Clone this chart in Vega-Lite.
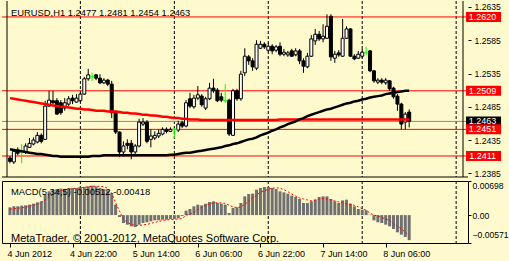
{
"$schema":"https://vega.github.io/schema/vega-lite/v6.json",
"background":"#FFFACD",
"padding":{"left":1,"top":0,"right":0,"bottom":0},
"spacing":2,
"config":{"font":"Liberation Sans","view":{"stroke":null},"axis":{"grid":false,"domain":false,"labelColor":"black","tickColor":"black"}},
"datasets":{
"sep":[{"t":"2012-06-05T00:00Z"},{"t":"2012-06-06T00:00Z"},{"t":"2012-06-07T00:00Z"},{"t":"2012-06-08T00:00Z"},{"t":"2012-06-09T00:00Z"}],
"levels":[{"p":1.262},{"p":1.2509},{"p":1.2451},{"p":1.2411}],
"bid":[{"p":1.2463}],
"bars":[
{"t":"2012-06-04T06:00Z","o":1.2408,"h":1.2411,"l":1.24,"c":1.2403,"r":1.2498,"b":1.2421,"m":0.00159,"s":0.0012},
{"t":"2012-06-04T07:00Z","o":1.2402,"h":1.2421,"l":1.2399,"c":1.2418,"r":1.2497,"b":1.242,"m":0.0018,"s":0.0013},
{"t":"2012-06-04T08:00Z","o":1.242,"h":1.2424,"l":1.2412,"c":1.2415,"r":1.2496,"b":1.2419,"m":0.0018,"s":0.0014},
{"t":"2012-06-04T09:00Z","o":1.2417,"h":1.2429,"l":1.24,"c":1.2417,"r":1.2495,"b":1.2418,"m":0.00193,"s":0.0015},
{"t":"2012-06-04T10:00Z","o":1.2417,"h":1.243,"l":1.2414,"c":1.2426,"r":1.2494,"b":1.2417,"m":0.002,"s":0.0016},
{"t":"2012-06-04T11:00Z","o":1.2424,"h":1.2438,"l":1.2423,"c":1.243,"r":1.2493,"b":1.2416,"m":0.00214,"s":0.0018},
{"t":"2012-06-04T12:00Z","o":1.2429,"h":1.2439,"l":1.2427,"c":1.2435,"r":1.2492,"b":1.2415,"m":0.00234,"s":0.002},
{"t":"2012-06-04T13:00Z","o":1.2432,"h":1.2447,"l":1.243,"c":1.2442,"r":1.2491,"b":1.2414,"m":0.00261,"s":0.0022},
{"t":"2012-06-04T14:00Z","o":1.2442,"h":1.2445,"l":1.243,"c":1.2433,"r":1.249,"b":1.2414,"m":0.00282,"s":0.0026},
{"t":"2012-06-04T15:00Z","o":1.2436,"h":1.2494,"l":1.2435,"c":1.2486,"r":1.2489,"b":1.2413,"m":0.00418,"s":0.0031},
{"t":"2012-06-04T16:00Z","o":1.2486,"h":1.2509,"l":1.2485,"c":1.2495,"r":1.2488,"b":1.2412,"m":0.00487,"s":0.0037},
{"t":"2012-06-04T17:00Z","o":1.2494,"h":1.2509,"l":1.2489,"c":1.2491,"r":1.2487,"b":1.2411,"m":0.00521,"s":0.0042},
{"t":"2012-06-04T18:00Z","o":1.2494,"h":1.2498,"l":1.2473,"c":1.2474,"r":1.2486,"b":1.2411,"m":0.00534,"s":0.0047},
{"t":"2012-06-04T19:00Z","o":1.2491,"h":1.2495,"l":1.2473,"c":1.2476,"r":1.2485,"b":1.241,"m":0.00541,"s":0.005},
{"t":"2012-06-04T20:00Z","o":1.2483,"h":1.2498,"l":1.2479,"c":1.2491,"r":1.2485,"b":1.241,"m":0.00534,"s":0.0052},
{"t":"2012-06-04T21:00Z","o":1.2489,"h":1.2501,"l":1.2486,"c":1.2497,"r":1.2484,"b":1.241,"m":0.00548,"s":0.0053},
{"t":"2012-06-04T22:00Z","o":1.2498,"h":1.2503,"l":1.2489,"c":1.2494,"r":1.2483,"b":1.241,"m":0.00555,"s":0.0054},
{"t":"2012-06-04T23:00Z","o":1.2492,"h":1.2504,"l":1.2491,"c":1.2498,"r":1.2482,"b":1.241,"m":0.00555,"s":0.0055},
{"t":"2012-06-05T00:00Z","o":1.2494,"h":1.2507,"l":1.2492,"c":1.2504,"r":1.2482,"b":1.241,"m":0.00568,"s":0.0056},
{"t":"2012-06-05T01:00Z","o":1.2504,"h":1.253,"l":1.2503,"c":1.2527,"r":1.2481,"b":1.241,"m":0.00575,"s":0.0057},
{"t":"2012-06-05T02:00Z","o":1.2527,"h":1.2542,"l":1.2524,"c":1.2533,"r":1.2481,"b":1.241,"m":0.00589,"s":0.0058},
{"t":"2012-06-05T03:00Z","o":1.253,"h":1.2536,"l":1.2524,"c":1.253,"r":1.248,"b":1.2411,"m":0.00602,"s":0.0059},
{"t":"2012-06-05T04:00Z","o":1.2533,"h":1.2534,"l":1.2525,"c":1.2528,"r":1.2479,"b":1.2411,"m":0.00589,"s":0.0059},
{"t":"2012-06-05T05:00Z","o":1.2528,"h":1.2534,"l":1.2519,"c":1.2521,"r":1.2479,"b":1.2411,"m":0.00555,"s":0.0059},
{"t":"2012-06-05T06:00Z","o":1.2521,"h":1.2528,"l":1.2519,"c":1.2525,"r":1.2479,"b":1.2412,"m":0.00534,"s":0.0058},
{"t":"2012-06-05T07:00Z","o":1.2525,"h":1.2527,"l":1.2516,"c":1.2519,"r":1.2478,"b":1.2412,"m":0.00507,"s":0.0055},
{"t":"2012-06-05T08:00Z","o":1.2519,"h":1.2524,"l":1.2468,"c":1.2476,"r":1.2478,"b":1.2412,"m":0.00452,"s":0.0045},
{"t":"2012-06-05T09:00Z","o":1.2476,"h":1.2479,"l":1.2444,"c":1.2447,"r":1.2478,"b":1.2412,"m":0.00214,"s":0.0025},
{"t":"2012-06-05T10:00Z","o":1.2447,"h":1.2448,"l":1.2409,"c":1.2417,"r":1.2477,"b":1.2412,"m":-0.00039,"s":0.0008},
{"t":"2012-06-05T11:00Z","o":1.2417,"h":1.2433,"l":1.2414,"c":1.2426,"r":1.2476,"b":1.2412,"m":-0.00162,"s":-0.0008},
{"t":"2012-06-05T12:00Z","o":1.243,"h":1.2436,"l":1.2421,"c":1.2427,"r":1.2476,"b":1.2412,"m":-0.00196,"s":-0.0015},
{"t":"2012-06-05T13:00Z","o":1.243,"h":1.2435,"l":1.2406,"c":1.2417,"r":1.2475,"b":1.2412,"m":-0.0023,"s":-0.0019},
{"t":"2012-06-05T14:00Z","o":1.2417,"h":1.2429,"l":1.2414,"c":1.2426,"r":1.2475,"b":1.2412,"m":-0.00244,"s":-0.0021},
{"t":"2012-06-05T15:00Z","o":1.2426,"h":1.2467,"l":1.2424,"c":1.2462,"r":1.2474,"b":1.2412,"m":-0.00196,"s":-0.0021},
{"t":"2012-06-05T16:00Z","o":1.2459,"h":1.2468,"l":1.2456,"c":1.2462,"r":1.2473,"b":1.2412,"m":-0.00162,"s":-0.002},
{"t":"2012-06-05T17:00Z","o":1.2462,"h":1.2465,"l":1.243,"c":1.2433,"r":1.2473,"b":1.2412,"m":-0.00148,"s":-0.0019},
{"t":"2012-06-05T18:00Z","o":1.2436,"h":1.2451,"l":1.2424,"c":1.2441,"r":1.2472,"b":1.2412,"m":-0.00128,"s":-0.0017},
{"t":"2012-06-05T19:00Z","o":1.2438,"h":1.2448,"l":1.2435,"c":1.2442,"r":1.2472,"b":1.2412,"m":-0.00107,"s":-0.0015},
{"t":"2012-06-05T20:00Z","o":1.2441,"h":1.2451,"l":1.2438,"c":1.2445,"r":1.2471,"b":1.2412,"m":-0.00107,"s":-0.0013},
{"t":"2012-06-05T21:00Z","o":1.2444,"h":1.2454,"l":1.2442,"c":1.2451,"r":1.247,"b":1.2412,"m":-0.00094,"s":-0.0011},
{"t":"2012-06-05T22:00Z","o":1.2451,"h":1.2454,"l":1.2445,"c":1.2448,"r":1.247,"b":1.2412,"m":-0.00094,"s":-0.001},
{"t":"2012-06-05T23:00Z","o":1.2448,"h":1.2454,"l":1.2447,"c":1.2451,"r":1.2469,"b":1.2413,"m":-0.0008,"s":-0.0009},
{"t":"2012-06-06T00:00Z","o":1.2451,"h":1.2453,"l":1.2438,"c":1.2451,"r":1.2468,"b":1.2413,"m":-0.0008,"s":-0.0009},
{"t":"2012-06-06T01:00Z","o":1.245,"h":1.2464,"l":1.2447,"c":1.2459,"r":1.2468,"b":1.2414,"m":-0.00066,"s":-0.0008},
{"t":"2012-06-06T02:00Z","o":1.2461,"h":1.2464,"l":1.2453,"c":1.2456,"r":1.2467,"b":1.2415,"m":-0.0002,"s":-0.0007},
{"t":"2012-06-06T03:00Z","o":1.2456,"h":1.2495,"l":1.2454,"c":1.2491,"r":1.2467,"b":1.2416,"m":0.00091,"s":0},
{"t":"2012-06-06T04:00Z","o":1.2497,"h":1.2506,"l":1.2483,"c":1.2486,"r":1.2466,"b":1.2416,"m":0.00125,"s":0.0002},
{"t":"2012-06-06T05:00Z","o":1.2485,"h":1.2503,"l":1.2482,"c":1.2498,"r":1.2466,"b":1.2417,"m":0.0018,"s":0.0006},
{"t":"2012-06-06T06:00Z","o":1.2498,"h":1.2516,"l":1.2495,"c":1.2503,"r":1.2466,"b":1.2418,"m":0.00214,"s":0.0011},
{"t":"2012-06-06T07:00Z","o":1.2501,"h":1.2504,"l":1.2485,"c":1.2488,"r":1.2465,"b":1.2419,"m":0.002,"s":0.0016},
{"t":"2012-06-06T08:00Z","o":1.2483,"h":1.25,"l":1.248,"c":1.2497,"r":1.2465,"b":1.242,"m":0.00234,"s":0.002},
{"t":"2012-06-06T09:00Z","o":1.2497,"h":1.2521,"l":1.2495,"c":1.2513,"r":1.2465,"b":1.2421,"m":0.00268,"s":0.0023},
{"t":"2012-06-06T10:00Z","o":1.2513,"h":1.2527,"l":1.2506,"c":1.2509,"r":1.2465,"b":1.2422,"m":0.00282,"s":0.0025},
{"t":"2012-06-06T11:00Z","o":1.251,"h":1.2513,"l":1.2492,"c":1.2494,"r":1.2465,"b":1.2423,"m":0.00248,"s":0.0025},
{"t":"2012-06-06T12:00Z","o":1.25,"h":1.2506,"l":1.2492,"c":1.2495,"r":1.2465,"b":1.2424,"m":0.00234,"s":0.0025},
{"t":"2012-06-06T13:00Z","o":1.2494,"h":1.2519,"l":1.2491,"c":1.2494,"r":1.2465,"b":1.2426,"m":0.00214,"s":0.0024},
{"t":"2012-06-06T14:00Z","o":1.2495,"h":1.2497,"l":1.2441,"c":1.2444,"r":1.2465,"b":1.2427,"m":0.00043,"s":0.002},
{"t":"2012-06-06T15:00Z","o":1.2442,"h":1.2512,"l":1.2441,"c":1.2509,"r":1.2465,"b":1.2429,"m":0.00145,"s":0.0017},
{"t":"2012-06-06T16:00Z","o":1.2509,"h":1.2512,"l":1.2494,"c":1.2497,"r":1.2465,"b":1.243,"m":0.00159,"s":0.0015},
{"t":"2012-06-06T17:00Z","o":1.2497,"h":1.2539,"l":1.2494,"c":1.2534,"r":1.2465,"b":1.2432,"m":0.00248,"s":0.0017},
{"t":"2012-06-06T18:00Z","o":1.2536,"h":1.2573,"l":1.2531,"c":1.2561,"r":1.2465,"b":1.2434,"m":0.00384,"s":0.0022},
{"t":"2012-06-06T19:00Z","o":1.256,"h":1.2563,"l":1.2548,"c":1.2554,"r":1.2465,"b":1.2436,"m":0.00432,"s":0.0029},
{"t":"2012-06-06T20:00Z","o":1.2554,"h":1.2558,"l":1.2539,"c":1.2545,"r":1.2465,"b":1.2437,"m":0.00439,"s":0.0035},
{"t":"2012-06-06T21:00Z","o":1.2543,"h":1.2585,"l":1.254,"c":1.2579,"r":1.2465,"b":1.2439,"m":0.00521,"s":0.0041},
{"t":"2012-06-06T22:00Z","o":1.2573,"h":1.2584,"l":1.2572,"c":1.2579,"r":1.2465,"b":1.2442,"m":0.00555,"s":0.0047},
{"t":"2012-06-06T23:00Z","o":1.2579,"h":1.2582,"l":1.2572,"c":1.2575,"r":1.2465,"b":1.2444,"m":0.00575,"s":0.005},
{"t":"2012-06-07T00:00Z","o":1.257,"h":1.2581,"l":1.2567,"c":1.2576,"r":1.2465,"b":1.2446,"m":0.00575,"s":0.0053},
{"t":"2012-06-07T01:00Z","o":1.2576,"h":1.2579,"l":1.2564,"c":1.2569,"r":1.2465,"b":1.2449,"m":0.00555,"s":0.0055},
{"t":"2012-06-07T02:00Z","o":1.257,"h":1.2578,"l":1.2567,"c":1.2575,"r":1.2465,"b":1.2451,"m":0.00534,"s":0.0056},
{"t":"2012-06-07T03:00Z","o":1.2576,"h":1.2582,"l":1.2561,"c":1.2564,"r":1.2466,"b":1.2454,"m":0.00487,"s":0.0055},
{"t":"2012-06-07T04:00Z","o":1.2564,"h":1.2572,"l":1.2561,"c":1.2567,"r":1.2466,"b":1.2456,"m":0.00466,"s":0.0052},
{"t":"2012-06-07T05:00Z","o":1.2563,"h":1.2569,"l":1.256,"c":1.2566,"r":1.2466,"b":1.2459,"m":0.00439,"s":0.0048},
{"t":"2012-06-07T06:00Z","o":1.2569,"h":1.2572,"l":1.256,"c":1.2561,"r":1.2466,"b":1.2461,"m":0.00398,"s":0.0043},
{"t":"2012-06-07T07:00Z","o":1.2563,"h":1.2573,"l":1.2561,"c":1.2569,"r":1.2466,"b":1.2463,"m":0.00371,"s":0.0039},
{"t":"2012-06-07T08:00Z","o":1.2569,"h":1.2572,"l":1.2549,"c":1.2554,"r":1.2466,"b":1.2466,"m":0.0033,"s":0.0035},
{"t":"2012-06-07T09:00Z","o":1.2554,"h":1.2558,"l":1.2536,"c":1.2546,"r":1.2466,"b":1.2468,"m":0.00248,"s":0.0033},
{"t":"2012-06-07T10:00Z","o":1.2545,"h":1.2566,"l":1.2543,"c":1.2561,"r":1.2466,"b":1.2471,"m":0.00248,"s":0.0031},
{"t":"2012-06-07T11:00Z","o":1.2561,"h":1.2593,"l":1.256,"c":1.2587,"r":1.2466,"b":1.2473,"m":0.00282,"s":0.0029},
{"t":"2012-06-07T12:00Z","o":1.2584,"h":1.2602,"l":1.2578,"c":1.2594,"r":1.2466,"b":1.2475,"m":0.00316,"s":0.0031},
{"t":"2012-06-07T13:00Z","o":1.2594,"h":1.2599,"l":1.2584,"c":1.2587,"r":1.2466,"b":1.2477,"m":0.00371,"s":0.0033},
{"t":"2012-06-07T14:00Z","o":1.2587,"h":1.2609,"l":1.2582,"c":1.2591,"r":1.2466,"b":1.2479,"m":0.00384,"s":0.0034},
{"t":"2012-06-07T15:00Z","o":1.2588,"h":1.2624,"l":1.2587,"c":1.2606,"r":1.2466,"b":1.2481,"m":0.00384,"s":0.0033},
{"t":"2012-06-07T16:00Z","o":1.2621,"h":1.2624,"l":1.2554,"c":1.256,"r":1.2466,"b":1.2482,"m":0.0033,"s":0.0031},
{"t":"2012-06-07T17:00Z","o":1.2558,"h":1.2569,"l":1.2551,"c":1.2564,"r":1.2466,"b":1.2484,"m":0.00282,"s":0.0029},
{"t":"2012-06-07T18:00Z","o":1.2566,"h":1.257,"l":1.256,"c":1.2563,"r":1.2466,"b":1.2486,"m":0.00248,"s":0.0027},
{"t":"2012-06-07T19:00Z","o":1.2561,"h":1.2617,"l":1.256,"c":1.2588,"r":1.2466,"b":1.2488,"m":0.00302,"s":0.0025},
{"t":"2012-06-07T20:00Z","o":1.2588,"h":1.2606,"l":1.2587,"c":1.2602,"r":1.2466,"b":1.249,"m":0.00316,"s":0.0023},
{"t":"2012-06-07T21:00Z","o":1.2602,"h":1.2603,"l":1.256,"c":1.2561,"r":1.2466,"b":1.2491,"m":0.00234,"s":0.0022},
{"t":"2012-06-07T22:00Z","o":1.2561,"h":1.2564,"l":1.2555,"c":1.2557,"r":1.2466,"b":1.2493,"m":0.0018,"s":0.002},
{"t":"2012-06-07T23:00Z","o":1.2558,"h":1.2569,"l":1.2557,"c":1.2564,"r":1.2466,"b":1.2494,"m":0.00125,"s":0.0017},
{"t":"2012-06-08T00:00Z","o":1.2561,"h":1.2572,"l":1.2558,"c":1.2567,"r":1.2466,"b":1.2496,"m":0.00111,"s":0.0013},
{"t":"2012-06-08T01:00Z","o":1.2566,"h":1.2575,"l":1.2563,"c":1.2566,"r":1.2466,"b":1.2497,"m":0.00098,"s":0.001},
{"t":"2012-06-08T02:00Z","o":1.2569,"h":1.257,"l":1.2537,"c":1.2539,"r":1.2466,"b":1.2499,"m":0.00009,"s":0.0004},
{"t":"2012-06-08T03:00Z","o":1.2539,"h":1.254,"l":1.2521,"c":1.2524,"r":1.2466,"b":1.25,"m":-0.00107,"s":0},
{"t":"2012-06-08T04:00Z","o":1.2522,"h":1.2528,"l":1.2519,"c":1.2525,"r":1.2466,"b":1.2501,"m":-0.00148,"s":-0.0002},
{"t":"2012-06-08T05:00Z","o":1.2525,"h":1.2528,"l":1.2519,"c":1.2522,"r":1.2466,"b":1.2502,"m":-0.00162,"s":-0.0005},
{"t":"2012-06-08T06:00Z","o":1.2521,"h":1.2528,"l":1.2518,"c":1.2525,"r":1.2466,"b":1.2504,"m":-0.00196,"s":-0.0008},
{"t":"2012-06-08T07:00Z","o":1.2524,"h":1.2525,"l":1.2509,"c":1.2512,"r":1.2466,"b":1.2505,"m":-0.0023,"s":-0.0011},
{"t":"2012-06-08T08:00Z","o":1.2513,"h":1.2515,"l":1.2497,"c":1.25,"r":1.2466,"b":1.2506,"m":-0.00285,"s":-0.0018},
{"t":"2012-06-08T09:00Z","o":1.2501,"h":1.2504,"l":1.2479,"c":1.2489,"r":1.2466,"b":1.2507,"m":-0.00353,"s":-0.0023},
{"t":"2012-06-08T10:00Z","o":1.2489,"h":1.2491,"l":1.2451,"c":1.2459,"r":1.2466,"b":1.2508,"m":-0.00401,"s":-0.0028},
{"t":"2012-06-08T11:00Z","o":1.2462,"h":1.2477,"l":1.2451,"c":1.2474,"r":1.2466,"b":1.2509,"m":-0.00448,"s":-0.0035},
{"t":"2012-06-08T12:00Z","o":1.2477,"h":1.2481,"l":1.2454,"c":1.2463,"r":1.2466,"b":1.2509,"m":-0.00512,"s":-0.00418}
]},
"vconcat":[
{"width":466,"height":176,
"layer":[
{"data":{"name":"sep"},"mark":{"type":"rule","color":"black","strokeDash":[3,2]},
 "encoding":{"x":{"field":"t","type":"temporal","scale":{"type":"utc","domain":[{"year":2012,"month":6,"date":4,"hours":5,"minutes":15,"utc":true},{"year":2012,"month":6,"date":9,"hours":1,"minutes":45,"utc":true}]},"axis":null}}},
{"data":{"name":"bid"},"mark":{"type":"rule","color":"#8a8a8a"},
 "encoding":{"y":{"field":"p","type":"quantitative","scale":{"domain":[1.23794,1.2644],"zero":false,"nice":false},"axis":{"orient":"right","values":[1.2385,1.2435,1.2485,1.2535,1.2585,1.2635],"format":".4f","tickSize":3,"labelPadding":3,"labelFontSize":8.6,"labelOverlap":false,"title":null}}}},
{"data":{"name":"levels"},"mark":{"type":"rule","color":"#ff0000"},
 "encoding":{"y":{"field":"p","type":"quantitative","scale":{"domain":[1.23794,1.2644],"zero":false,"nice":false},"axis":{"orient":"right","values":[1.2385,1.2435,1.2485,1.2535,1.2585,1.2635],"format":".4f","tickSize":3,"labelPadding":3,"labelFontSize":8.6,"labelOverlap":false,"title":null}}}},
{"data":{"name":"bars"},"mark":{"type":"rule","strokeWidth":1},
 "encoding":{"x":{"field":"t","type":"temporal","scale":{"type":"utc","domain":[{"year":2012,"month":6,"date":4,"hours":5,"minutes":15,"utc":true},{"year":2012,"month":6,"date":9,"hours":1,"minutes":45,"utc":true}]},"axis":null},
 "y":{"field":"h","type":"quantitative","scale":{"domain":[1.23794,1.2644],"zero":false,"nice":false},"axis":{"orient":"right","values":[1.2385,1.2435,1.2485,1.2535,1.2585,1.2635],"format":".4f","tickSize":3,"labelPadding":3,"labelFontSize":8.6,"labelOverlap":false,"title":null}},"y2":{"field":"l"},
 "color":{"condition":{"test":"datum.o == datum.c","value":"#00ff00"},"value":"black"}}},
{"data":{"name":"bars"},"transform":[{"filter":"datum.o != datum.c"}],"mark":{"type":"bar","width":3,"stroke":"black","strokeWidth":1},
 "encoding":{"x":{"field":"t","type":"temporal","scale":{"type":"utc","domain":[{"year":2012,"month":6,"date":4,"hours":5,"minutes":15,"utc":true},{"year":2012,"month":6,"date":9,"hours":1,"minutes":45,"utc":true}]},"axis":null},
 "y":{"field":"o","type":"quantitative","scale":{"domain":[1.23794,1.2644],"zero":false,"nice":false},"axis":{"orient":"right","values":[1.2385,1.2435,1.2485,1.2535,1.2585,1.2635],"format":".4f","tickSize":3,"labelPadding":3,"labelFontSize":8.6,"labelOverlap":false,"title":null}},"y2":{"field":"c"},
 "fill":{"condition":{"test":"datum.c > datum.o","value":"white"},"value":"black"}}},
{"data":{"name":"bars"},"transform":[{"filter":"datum.o == datum.c"}],"mark":{"type":"tick","orient":"horizontal","color":"#00ff00","size":5,"thickness":1,"opacity":1},
 "encoding":{"x":{"field":"t","type":"temporal","scale":{"type":"utc","domain":[{"year":2012,"month":6,"date":4,"hours":5,"minutes":15,"utc":true},{"year":2012,"month":6,"date":9,"hours":1,"minutes":45,"utc":true}]},"axis":null},
 "y":{"field":"o","type":"quantitative","scale":{"domain":[1.23794,1.2644],"zero":false,"nice":false},"axis":{"orient":"right","values":[1.2385,1.2435,1.2485,1.2535,1.2585,1.2635],"format":".4f","tickSize":3,"labelPadding":3,"labelFontSize":8.6,"labelOverlap":false,"title":null}}}},
{"data":{"name":"bars"},"mark":{"type":"line","color":"#ff0000","strokeWidth":2.5},
 "encoding":{"x":{"field":"t","type":"temporal","scale":{"type":"utc","domain":[{"year":2012,"month":6,"date":4,"hours":5,"minutes":15,"utc":true},{"year":2012,"month":6,"date":9,"hours":1,"minutes":45,"utc":true}]},"axis":null},
 "y":{"field":"r","type":"quantitative","scale":{"domain":[1.23794,1.2644],"zero":false,"nice":false},"axis":{"orient":"right","values":[1.2385,1.2435,1.2485,1.2535,1.2585,1.2635],"format":".4f","tickSize":3,"labelPadding":3,"labelFontSize":8.6,"labelOverlap":false,"title":null}}}},
{"data":{"name":"bars"},"mark":{"type":"line","color":"black","strokeWidth":2.5},
 "encoding":{"x":{"field":"t","type":"temporal","scale":{"type":"utc","domain":[{"year":2012,"month":6,"date":4,"hours":5,"minutes":15,"utc":true},{"year":2012,"month":6,"date":9,"hours":1,"minutes":45,"utc":true}]},"axis":null},
 "y":{"field":"b","type":"quantitative","scale":{"domain":[1.23794,1.2644],"zero":false,"nice":false},"axis":{"orient":"right","values":[1.2385,1.2435,1.2485,1.2535,1.2585,1.2635],"format":".4f","tickSize":3,"labelPadding":3,"labelFontSize":8.6,"labelOverlap":false,"title":null}}}},
{"data":{"values":[{}]},"mark":{"type":"rule","color":"black"},
 "encoding":{"x":{"datum":{"year":2012,"month":6,"date":4,"hours":5,"minutes":15,"utc":true},"type":"temporal","scale":{"type":"utc","domain":[{"year":2012,"month":6,"date":4,"hours":5,"minutes":15,"utc":true},{"year":2012,"month":6,"date":9,"hours":1,"minutes":45,"utc":true}]},"axis":null}}},
{"data":{"values":[{}]},"mark":{"type":"rule","color":"black"},
 "encoding":{"x":{"datum":{"year":2012,"month":6,"date":9,"hours":1,"minutes":45,"utc":true},"type":"temporal","scale":{"type":"utc","domain":[{"year":2012,"month":6,"date":4,"hours":5,"minutes":15,"utc":true},{"year":2012,"month":6,"date":9,"hours":1,"minutes":45,"utc":true}]},"axis":null}}},
{"data":{"values":[{}]},"mark":{"type":"rule","color":"black"},
 "encoding":{"y":{"datum":1.23794,"type":"quantitative","scale":{"domain":[1.23794,1.2644],"zero":false,"nice":false},"axis":{"orient":"right","values":[1.2385,1.2435,1.2485,1.2535,1.2585,1.2635],"format":".4f","tickSize":3,"labelPadding":3,"labelFontSize":8.6,"labelOverlap":false,"title":null}}}},
{"data":{"values":[{"label":"EURUSD,H1  1.2477 1.2481 1.2454 1.2463"}]},"mark":{"type":"text","align":"left","baseline":"alphabetic","dx":4,"fontSize":9.4,"color":"black"},
 "encoding":{"x":{"datum":{"year":2012,"month":6,"date":4,"hours":5,"minutes":15,"utc":true},"type":"temporal","scale":{"type":"utc","domain":[{"year":2012,"month":6,"date":4,"hours":5,"minutes":15,"utc":true},{"year":2012,"month":6,"date":9,"hours":1,"minutes":45,"utc":true}]},"axis":null},
 "y":{"datum":1.2621,"type":"quantitative","scale":{"domain":[1.23794,1.2644],"zero":false,"nice":false},"axis":{"orient":"right","values":[1.2385,1.2435,1.2485,1.2535,1.2585,1.2635],"format":".4f","tickSize":3,"labelPadding":3,"labelFontSize":8.6,"labelOverlap":false,"title":null}},"text":{"field":"label"}}},
{"data":{"name":"bid"},"mark":{"type":"tick","orient":"horizontal","size":35,"thickness":10,"color":"black","opacity":1},
 "encoding":{"x":{"datum":{"year":2012,"month":6,"date":9,"hours":7,"utc":true},"type":"temporal","scale":{"type":"utc","domain":[{"year":2012,"month":6,"date":4,"hours":5,"minutes":15,"utc":true},{"year":2012,"month":6,"date":9,"hours":1,"minutes":45,"utc":true}]},"axis":null},
 "y":{"field":"p","type":"quantitative","scale":{"domain":[1.23794,1.2644],"zero":false,"nice":false},"axis":{"orient":"right","values":[1.2385,1.2435,1.2485,1.2535,1.2585,1.2635],"format":".4f","tickSize":3,"labelPadding":3,"labelFontSize":8.6,"labelOverlap":false,"title":null}}}},
{"data":{"name":"bid"},"mark":{"type":"text","color":"white","fontSize":9,"align":"center","baseline":"middle","dx":-1},
 "encoding":{"x":{"datum":{"year":2012,"month":6,"date":9,"hours":7,"utc":true},"type":"temporal","scale":{"type":"utc","domain":[{"year":2012,"month":6,"date":4,"hours":5,"minutes":15,"utc":true},{"year":2012,"month":6,"date":9,"hours":1,"minutes":45,"utc":true}]},"axis":null},
 "y":{"field":"p","type":"quantitative","scale":{"domain":[1.23794,1.2644],"zero":false,"nice":false},"axis":{"orient":"right","values":[1.2385,1.2435,1.2485,1.2535,1.2585,1.2635],"format":".4f","tickSize":3,"labelPadding":3,"labelFontSize":8.6,"labelOverlap":false,"title":null}},"text":{"field":"p","type":"quantitative","format":".4f"}}},
{"data":{"name":"levels"},"mark":{"type":"tick","orient":"horizontal","size":35,"thickness":10,"color":"#ff0000","opacity":1},
 "encoding":{"x":{"datum":{"year":2012,"month":6,"date":9,"hours":7,"utc":true},"type":"temporal","scale":{"type":"utc","domain":[{"year":2012,"month":6,"date":4,"hours":5,"minutes":15,"utc":true},{"year":2012,"month":6,"date":9,"hours":1,"minutes":45,"utc":true}]},"axis":null},
 "y":{"field":"p","type":"quantitative","scale":{"domain":[1.23794,1.2644],"zero":false,"nice":false},"axis":{"orient":"right","values":[1.2385,1.2435,1.2485,1.2535,1.2585,1.2635],"format":".4f","tickSize":3,"labelPadding":3,"labelFontSize":8.6,"labelOverlap":false,"title":null}}}},
{"data":{"name":"levels"},"mark":{"type":"text","color":"white","fontSize":9,"align":"center","baseline":"middle","dx":-1},
 "encoding":{"x":{"datum":{"year":2012,"month":6,"date":9,"hours":7,"utc":true},"type":"temporal","scale":{"type":"utc","domain":[{"year":2012,"month":6,"date":4,"hours":5,"minutes":15,"utc":true},{"year":2012,"month":6,"date":9,"hours":1,"minutes":45,"utc":true}]},"axis":null},
 "y":{"field":"p","type":"quantitative","scale":{"domain":[1.23794,1.2644],"zero":false,"nice":false},"axis":{"orient":"right","values":[1.2385,1.2435,1.2485,1.2535,1.2585,1.2635],"format":".4f","tickSize":3,"labelPadding":3,"labelFontSize":8.6,"labelOverlap":false,"title":null}},"text":{"field":"p","type":"quantitative","format":".4f"}}}
]},
{"width":466,"height":62,"view":{"stroke":"black"},
"layer":[
{"data":{"name":"sep"},"mark":{"type":"rule","color":"black","strokeDash":[3,2]},
 "encoding":{"x":{"field":"t","type":"temporal","scale":{"type":"utc","domain":[{"year":2012,"month":6,"date":4,"hours":5,"minutes":15,"utc":true},{"year":2012,"month":6,"date":9,"hours":1,"minutes":45,"utc":true}]},
   "axis":{"values":[{"year":2012,"month":6,"date":4,"hours":6,"utc":true},{"year":2012,"month":6,"date":4,"hours":22,"utc":true},{"year":2012,"month":6,"date":5,"hours":14,"utc":true},{"year":2012,"month":6,"date":6,"hours":6,"utc":true},{"year":2012,"month":6,"date":6,"hours":22,"utc":true},{"year":2012,"month":6,"date":7,"hours":14,"utc":true},{"year":2012,"month":6,"date":8,"hours":6,"utc":true}],
   "labelExpr":"datum.index == 0 ? '4 Jun 2012' : utcFormat(datum.value, '%-d %b %H:%M')","labelAlign":"left","labelBaseline":"top","labelPadding":2,"tickSize":4,"labelFontSize":9,"labelOverlap":false,"labelBound":false,"labelFlush":false,"labelOffset":-3,"title":null}}}},
{"data":{"name":"bars"},"mark":{"type":"bar","width":3,"color":"#707070"},
 "encoding":{"x":{"field":"t","type":"temporal","scale":{"type":"utc","domain":[{"year":2012,"month":6,"date":4,"hours":5,"minutes":15,"utc":true},{"year":2012,"month":6,"date":9,"hours":1,"minutes":45,"utc":true}]},
   "axis":{"values":[{"year":2012,"month":6,"date":4,"hours":6,"utc":true},{"year":2012,"month":6,"date":4,"hours":22,"utc":true},{"year":2012,"month":6,"date":5,"hours":14,"utc":true},{"year":2012,"month":6,"date":6,"hours":6,"utc":true},{"year":2012,"month":6,"date":6,"hours":22,"utc":true},{"year":2012,"month":6,"date":7,"hours":14,"utc":true},{"year":2012,"month":6,"date":8,"hours":6,"utc":true}],
   "labelExpr":"datum.index == 0 ? '4 Jun 2012' : utcFormat(datum.value, '%-d %b %H:%M')","labelAlign":"left","labelBaseline":"top","labelPadding":2,"tickSize":4,"labelFontSize":9,"labelOverlap":false,"labelBound":false,"labelFlush":false,"labelOffset":-3,"title":null}},
 "y":{"field":"m","type":"quantitative","scale":{"domain":[-0.00571,0.00698],"zero":false,"nice":false},
   "axis":{"orient":"right","values":[-0.00571,0,0.00698],"labelExpr":"datum.value == 0 ? '0.00' : format(datum.value, '.5f')","labelFlush":true,"labelFlushOffset":0,"labelOffset":{"condition":{"test":"datum.value < 0","value":-4},"value":0},"tickSize":3,"labelPadding":1,"labelFontSize":8.6,"labelOverlap":false,"title":null}},
 "y2":{"datum":0}}},
{"data":{"name":"bars"},"mark":{"type":"line","color":"#ff0000","strokeWidth":1,"strokeDash":[2,2]},
 "encoding":{"x":{"field":"t","type":"temporal","scale":{"type":"utc","domain":[{"year":2012,"month":6,"date":4,"hours":5,"minutes":15,"utc":true},{"year":2012,"month":6,"date":9,"hours":1,"minutes":45,"utc":true}]},
   "axis":{"values":[{"year":2012,"month":6,"date":4,"hours":6,"utc":true},{"year":2012,"month":6,"date":4,"hours":22,"utc":true},{"year":2012,"month":6,"date":5,"hours":14,"utc":true},{"year":2012,"month":6,"date":6,"hours":6,"utc":true},{"year":2012,"month":6,"date":6,"hours":22,"utc":true},{"year":2012,"month":6,"date":7,"hours":14,"utc":true},{"year":2012,"month":6,"date":8,"hours":6,"utc":true}],
   "labelExpr":"datum.index == 0 ? '4 Jun 2012' : utcFormat(datum.value, '%-d %b %H:%M')","labelAlign":"left","labelBaseline":"top","labelPadding":2,"tickSize":4,"labelFontSize":9,"labelOverlap":false,"labelBound":false,"labelFlush":false,"labelOffset":-3,"title":null}},
 "y":{"field":"s","type":"quantitative","scale":{"domain":[-0.00571,0.00698],"zero":false,"nice":false},
   "axis":{"orient":"right","values":[-0.00571,0,0.00698],"labelExpr":"datum.value == 0 ? '0.00' : format(datum.value, '.5f')","labelFlush":true,"labelFlushOffset":0,"labelOffset":{"condition":{"test":"datum.value < 0","value":-4},"value":0},"tickSize":3,"labelPadding":1,"labelFontSize":8.6,"labelOverlap":false,"title":null}}}},
{"data":{"values":[{"label":"MACD(5,34,5) -0.00512 -0.00418","v":0.0042},{"label":"MetaTrader, © 2001-2012, MetaQuotes Software Corp.","v":-0.00557}]},
 "mark":{"type":"text","align":"left","baseline":"alphabetic","dx":4,"color":"black"},
 "encoding":{"x":{"datum":{"year":2012,"month":6,"date":4,"hours":5,"minutes":15,"utc":true},"type":"temporal","scale":{"type":"utc","domain":[{"year":2012,"month":6,"date":4,"hours":5,"minutes":15,"utc":true},{"year":2012,"month":6,"date":9,"hours":1,"minutes":45,"utc":true}]},
   "axis":{"values":[{"year":2012,"month":6,"date":4,"hours":6,"utc":true},{"year":2012,"month":6,"date":4,"hours":22,"utc":true},{"year":2012,"month":6,"date":5,"hours":14,"utc":true},{"year":2012,"month":6,"date":6,"hours":6,"utc":true},{"year":2012,"month":6,"date":6,"hours":22,"utc":true},{"year":2012,"month":6,"date":7,"hours":14,"utc":true},{"year":2012,"month":6,"date":8,"hours":6,"utc":true}],
   "labelExpr":"datum.index == 0 ? '4 Jun 2012' : utcFormat(datum.value, '%-d %b %H:%M')","labelAlign":"left","labelBaseline":"top","labelPadding":2,"tickSize":4,"labelFontSize":9,"labelOverlap":false,"labelBound":false,"labelFlush":false,"labelOffset":-3,"title":null}},
 "y":{"field":"v","type":"quantitative","scale":{"domain":[-0.00571,0.00698],"zero":false,"nice":false},
   "axis":{"orient":"right","values":[-0.00571,0,0.00698],"labelExpr":"datum.value == 0 ? '0.00' : format(datum.value, '.5f')","labelFlush":true,"labelFlushOffset":0,"labelOffset":{"condition":{"test":"datum.value < 0","value":-4},"value":0},"tickSize":3,"labelPadding":1,"labelFontSize":8.6,"labelOverlap":false,"title":null}},
 "text":{"field":"label"},
 "size":{"condition":{"test":"datum.v < 0","value":11},"value":9.4}}}
]},
{"width":520,"height":8,"view":{"fill":"black","stroke":null},"data":{"values":[{}]},"mark":{"type":"point","opacity":0}}
]
}
